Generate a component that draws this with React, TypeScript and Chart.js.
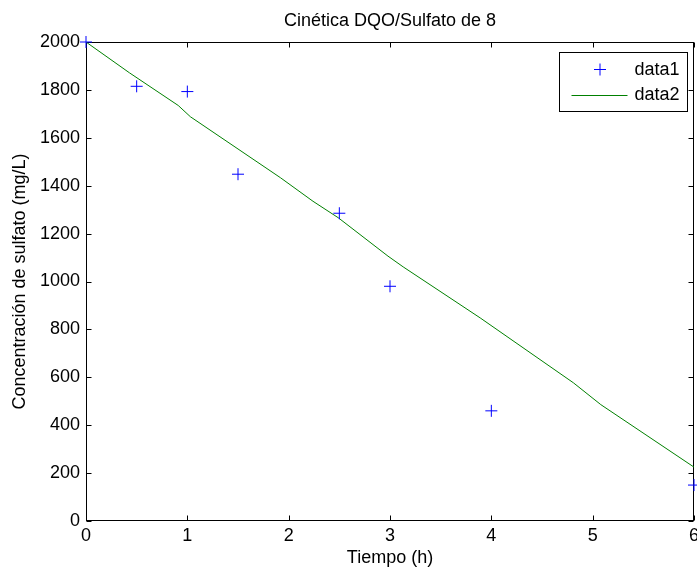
import React, { useEffect, useRef } from "react";
import { Chart, registerables } from "chart.js";

Chart.register(...registerables);

// ---- data ----
const timeH = [0, 0.5, 1, 1.5, 2.5, 3, 4, 6];
const sulfate = [2000, 1815, 1793, 1448, 1285, 980, 460, 150];
const modelTime = [0, 0.43, 0.91, 1.03, 1.92, 2.24, 2.49, 2.98, 3.13, 3.89, 4.81, 5.08, 6];
const modelSulfate = [2000, 1871, 1735, 1688, 1433, 1335, 1266, 1106, 1061, 848, 577, 486, 225];
const xTicks = [0, 1, 2, 3, 4, 5, 6];
const yTicks = [0, 200, 400, 600, 800, 1000, 1200, 1400, 1600, 1800, 2000];
const seriesNames = ["data1", "data2"];
const titleText = "Cinética DQO/Sulfato de 8";
const xTitle = "Tiempo (h)";
const yTitle = "Concentración de sulfato (mg/L)";

const FONT = "'Liberation Sans', Arial, Helvetica, sans-serif";
const FS = 18;

const matlabAxes = {
  id: "matlabAxes",
  beforeDatasetsDraw(chart: any) {
    const { ctx, chartArea } = chart;
    const { left, right, top, bottom } = chartArea;
    const xs = chart.scales.x;
    const ys = chart.scales.y;
    ctx.save();
    ctx.strokeStyle = "#000";
    ctx.lineWidth = 1;
    const L = Math.round(left) + 0.5;
    const R = Math.round(right) - 0.5;
    const T = Math.round(top) + 0.5;
    const B = Math.round(bottom) - 0.5;
    ctx.strokeRect(L, T, R - L, B - T);
    const tl = 5;
    ctx.beginPath();
    xTicks.forEach((v) => {
      const px = Math.round(xs.getPixelForValue(v)) + 0.5;
      ctx.moveTo(px, B);
      ctx.lineTo(px, B - tl);
      ctx.moveTo(px, T);
      ctx.lineTo(px, T + tl);
    });
    yTicks.forEach((v) => {
      const py = Math.round(ys.getPixelForValue(v)) + 0.5;
      ctx.moveTo(L, py);
      ctx.lineTo(L + tl, py);
      ctx.moveTo(R, py);
      ctx.lineTo(R - tl, py);
    });
    ctx.stroke();
    ctx.restore();
  },
  afterDraw(chart: any) {
    const { ctx, chartArea } = chart;
    const w = 128;
    const h = 59;
    const bx = Math.round(chartArea.right - 7 - w) + 0.5;
    const by = Math.round(chartArea.top + 10) + 0.5;
    ctx.save();
    ctx.fillStyle = "#fff";
    ctx.fillRect(bx, by, w, h);
    ctx.strokeStyle = "#000";
    ctx.lineWidth = 1;
    ctx.strokeRect(bx, by, w, h);
    const row1 = by + 16.5;
    const row2 = by + 42;
    ctx.strokeStyle = "#0000ff";
    ctx.beginPath();
    const mx = bx + 40.5;
    ctx.moveTo(mx - 6, Math.round(row1) + 0.5);
    ctx.lineTo(mx + 6, Math.round(row1) + 0.5);
    ctx.moveTo(mx, Math.round(row1) - 5.5);
    ctx.lineTo(mx, Math.round(row1) + 6.5);
    ctx.stroke();
    ctx.strokeStyle = "#008000";
    ctx.beginPath();
    ctx.moveTo(bx + 12, Math.round(row2) + 0.5);
    ctx.lineTo(bx + 68, Math.round(row2) + 0.5);
    ctx.stroke();
    ctx.fillStyle = "#000";
    ctx.font = `${FS}px ${FONT}`;
    ctx.textAlign = "left";
    ctx.textBaseline = "middle";
    ctx.fillText(seriesNames[0], bx + 75, row1 + 1);
    ctx.fillText(seriesNames[1], bx + 75, row2 + 1);
    ctx.restore();
  },
};

export default function App() {
  const canvasRef = useRef<HTMLCanvasElement | null>(null);

  useEffect(() => {
    if (!canvasRef.current) return;
    const chart = new Chart(canvasRef.current, {
      type: "scatter",
      data: {
        datasets: [
          {
            label: seriesNames[0],
            data: timeH.map((t, i) => ({ x: t, y: sulfate[i] })),
            showLine: false,
            pointStyle: "cross",
            pointRadius: 6,
            pointBorderWidth: 1,
            borderColor: "#0000ff",
            backgroundColor: "#0000ff",
            clip: false as any,
            order: 0,
          },
          {
            label: seriesNames[1],
            data: modelTime.map((t, i) => ({ x: t, y: modelSulfate[i] })),
            showLine: true,
            borderColor: "#008000",
            backgroundColor: "#008000",
            borderWidth: 1,
            pointRadius: 0,
            tension: 0,
            order: 1,
          },
        ],
      },
      options: {
        animation: false,
        responsive: true,
        maintainAspectRatio: false,
        events: [],
        layout: { padding: { left: 0, right: 0, top: 0, bottom: 0 } },
        plugins: {
          legend: { display: false },
          tooltip: { enabled: false },
          title: {
            display: true,
            text: titleText,
            color: "#000",
            fullSize: false,
            font: { family: FONT, size: FS, weight: "normal" },
            padding: { top: 10, bottom: 10.4 },
          },
        },
        scales: {
          x: {
            type: "linear",
            min: 0,
            max: 6,
            afterBuildTicks: (s: any) => {
              s.ticks = xTicks.map((v) => ({ value: v }));
            },
            afterFit: (s: any) => {
              s.height = 48;
              s.paddingLeft = 0;
              s.paddingRight = 0;
            },
            grid: { display: false, drawTicks: false },
            border: { display: false },
            ticks: {
              color: "#000",
              font: { family: FONT, size: FS },
              padding: 4,
              maxRotation: 0,
              callback: (v: any) => String(v),
            },
            title: {
              display: true,
              text: xTitle,
              color: "#000",
              font: { family: FONT, size: FS },
              padding: { top: 0, bottom: 0 },
            },
          },
          y: {
            type: "linear",
            min: 0,
            max: 2000,
            afterBuildTicks: (s: any) => {
              s.ticks = yTicks.map((v) => ({ value: v }));
            },
            afterFit: (s: any) => {
              s.width = 86;
              s.paddingTop = 0;
              s.paddingBottom = 0;
            },
            grid: { display: false, drawTicks: false },
            border: { display: false },
            ticks: {
              color: "#000",
              font: { family: FONT, size: FS },
              padding: 6,
              callback: (v: any) => String(v),
            },
            title: {
              display: true,
              text: yTitle,
              color: "#000",
              font: { family: FONT, size: FS },
              padding: { top: 9, bottom: 0 },
            },
          },
        },
      },
      plugins: [matlabAxes],
    });
    return () => chart.destroy();
  }, []);

  return (
    <div
      style={{
        position: "absolute",
        left: 0,
        top: 0,
        width: "697px",
        height: "569px",
        overflow: "hidden",
        background: "#fff",
      }}
    >
      <div style={{ position: "relative", width: "701px", height: "569px" }}>
        <canvas ref={canvasRef} />
      </div>
    </div>
  );
}
